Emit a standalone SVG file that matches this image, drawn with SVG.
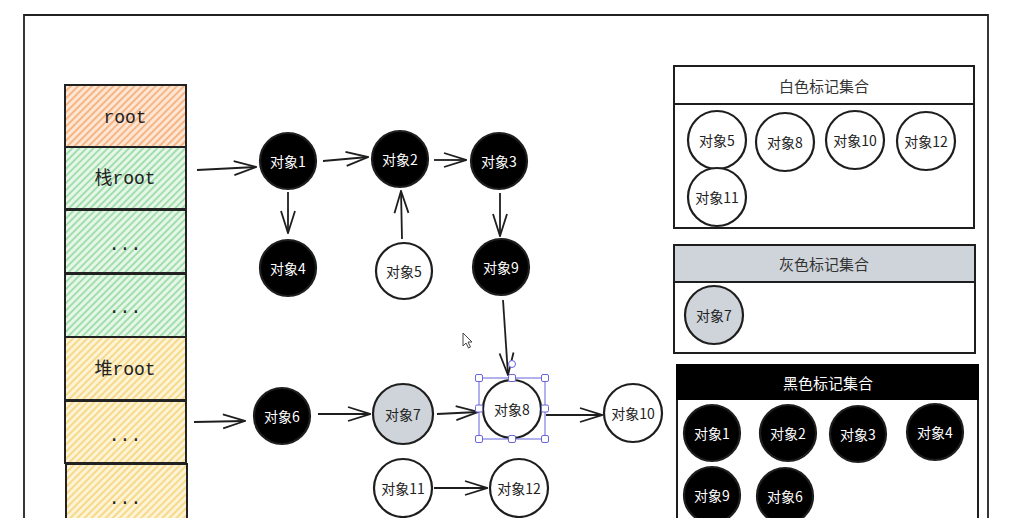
<svg xmlns="http://www.w3.org/2000/svg" width="1009" height="518" viewBox="0 0 1009 518">
<style>
.frame{fill:none;stroke:#222;stroke-width:1.8}
.cell{stroke:#222;stroke-width:2}
.slab{font-family:"Liberation Mono","Noto Sans CJK SC",monospace;font-size:18px;fill:#222;text-anchor:middle;dominant-baseline:central}
.n circle{stroke:#1e1e1e;stroke-width:2.2}
.blk circle{fill:#000}
.wht circle{fill:#fff}
.gry circle{fill:#ced4da}
.n text{font-family:"Noto Sans CJK SC","Noto Sans",sans-serif;font-size:14px;text-anchor:middle;dominant-baseline:central}
.blk text{fill:#fff}
.wht text,.gry text{fill:#222}
.edge{fill:none;stroke:#1e1e1e;stroke-width:1.8;marker-end:url(#ah)}
.panel{fill:#fff;stroke:#1e1e1e;stroke-width:2}
.ptitle{font-family:"Noto Sans CJK SC",sans-serif;font-size:15px;text-anchor:middle;dominant-baseline:central;fill:#333}
.sel{fill:none;stroke:#6965db;stroke-width:1}
.hdl{fill:#fff;stroke:#6965db;stroke-width:1}
</style>
<defs>
<marker id="ah" viewBox="0 0 24 24" refX="23" refY="12" markerWidth="24" markerHeight="24" markerUnits="userSpaceOnUse" orient="auto">
<path d="M1,5 L23,12 L1,19" fill="none" stroke="#1e1e1e" stroke-width="1.8"/>
</marker>
<pattern id="hO" width="5" height="5" patternUnits="userSpaceOnUse" patternTransform="rotate(45)">
<rect width="5" height="5" fill="#fde6d4"/><line x1="1" y1="0" x2="1" y2="5" stroke="#f4a062" stroke-width="1.4"/>
</pattern>
<pattern id="hG" width="5" height="5" patternUnits="userSpaceOnUse" patternTransform="rotate(45)">
<rect width="5" height="5" fill="#e6f7e9"/><line x1="1" y1="0" x2="1" y2="5" stroke="#86d493" stroke-width="1.4"/>
</pattern>
<pattern id="hY" width="5" height="5" patternUnits="userSpaceOnUse" patternTransform="rotate(45)">
<rect width="5" height="5" fill="#fdf3d6"/><line x1="1" y1="0" x2="1" y2="5" stroke="#f3cf68" stroke-width="1.4"/>
</pattern>
</defs>
<rect width="1009" height="518" fill="#fff"/>
<path class="frame" d="M24,518 L24,15 L988,15 L988,518"/>

<g id="stack">
<rect class="cell" x="65" y="85" width="121" height="62" fill="url(#hO)"/>
<text class="slab" x="125" y="118">root</text>
<rect class="cell" x="65" y="147" width="121" height="62" fill="url(#hG)"/>
<text class="slab" x="125" y="179">栈root</text>
<rect class="cell" x="65" y="210" width="121" height="63" fill="url(#hG)"/>
<text class="slab" x="125" y="245">...</text>
<rect class="cell" x="65" y="274" width="121" height="63" fill="url(#hG)"/>
<text class="slab" x="125" y="308">...</text>
<rect class="cell" x="65" y="337" width="121" height="63" fill="url(#hY)"/>
<text class="slab" x="125" y="370">堆root</text>
<rect class="cell" x="65" y="401" width="121" height="62" fill="url(#hY)"/>
<text class="slab" x="125" y="436">...</text>
<rect class="cell" x="66" y="464" width="121" height="62" fill="url(#hY)"/>
<text class="slab" x="125" y="499">...</text>
</g>

<g id="connectors">
<path class="edge" d="M197,170 L256,167"/>
<path class="edge" d="M323,161 L368,157"/>
<path class="edge" d="M434,160 L466,160"/>
<path class="edge" d="M288,192 L288,233"/>
<path class="edge" d="M402,239 L401,191"/>
<path class="edge" d="M500,193 L500,236"/>
<path class="edge" d="M503,300 L508,375"/>
<path class="edge" d="M194,422 L245,421"/>
<path class="edge" d="M318,414 L370,414"/>
<path class="edge" d="M437,414 L478,412"/>
<path class="edge" d="M546,415 L602,415"/>
<path class="edge" d="M434,488 L487,488"/>
</g>

<g id="obj1" class="n blk"><circle cx="288" cy="161" r="28"/><text x="288" y="161">对象1</text></g>
<g id="obj2" class="n blk"><circle cx="400" cy="159" r="28"/><text x="400" y="159">对象2</text></g>
<g id="obj3" class="n blk"><circle cx="499" cy="161" r="28"/><text x="499" y="161">对象3</text></g>
<g id="obj4" class="n blk"><circle cx="288" cy="268" r="28"/><text x="288" y="268">对象4</text></g>
<g id="obj5" class="n wht"><circle cx="404" cy="271" r="28"/><text x="404" y="271">对象5</text></g>
<g id="obj9" class="n blk"><circle cx="501" cy="267" r="28"/><text x="501" y="267">对象9</text></g>
<g id="obj6" class="n blk"><circle cx="282" cy="416" r="28"/><text x="282" y="416">对象6</text></g>
<g id="obj7" class="n gry"><circle cx="403" cy="414" r="30"/><text x="403" y="414">对象7</text></g>
<g id="obj8" class="n wht"><circle cx="512" cy="409" r="29"/><text x="512" y="409">对象8</text></g>
<g id="obj10" class="n wht"><circle cx="633" cy="413" r="29"/><text x="633" y="413">对象10</text></g>
<g id="obj11" class="n wht"><circle cx="403" cy="488" r="29"/><text x="403" y="488">对象11</text></g>
<g id="obj12" class="n wht"><circle cx="519" cy="488" r="29"/><text x="519" y="488">对象12</text></g>

<g id="selection">
<rect class="sel" x="479" y="378" width="66" height="61"/>
<rect class="hdl" x="475.5" y="374.5" width="7" height="7" rx="1.5"/>
<rect class="hdl" x="508.5" y="374.5" width="7" height="7" rx="1.5"/>
<rect class="hdl" x="541.5" y="374.5" width="7" height="7" rx="1.5"/>
<rect class="hdl" x="475.5" y="405" width="7" height="7" rx="1.5"/>
<rect class="hdl" x="541.5" y="405" width="7" height="7" rx="1.5"/>
<rect class="hdl" x="475.5" y="435.5" width="7" height="7" rx="1.5"/>
<rect class="hdl" x="508.5" y="435.5" width="7" height="7" rx="1.5"/>
<rect class="hdl" x="541.5" y="435.5" width="7" height="7" rx="1.5"/>
<circle class="hdl" cx="512" cy="364" r="3.5"/>
</g>
<path d="M463,333 L463,346 L466,343 L468.5,348 L470.5,347 L468,342 L472,342 Z" fill="#fff" stroke="#444" stroke-width="1"/>

<g id="whiteSet">
<rect class="panel" x="674" y="66" width="300" height="162"/>
<line x1="674" y1="104" x2="974" y2="104" stroke="#1e1e1e" stroke-width="2"/>
<text class="ptitle" x="824" y="85">白色标记集合</text>
<g class="n wht"><circle cx="717" cy="140" r="29"/><text x="717" y="140">对象5</text></g>
<g class="n wht"><circle cx="785" cy="142" r="29"/><text x="785" y="142">对象8</text></g>
<g class="n wht"><circle cx="855" cy="140" r="29"/><text x="855" y="140">对象10</text></g>
<g class="n wht"><circle cx="926" cy="141" r="29"/><text x="926" y="141">对象12</text></g>
<g class="n wht"><circle cx="717" cy="197" r="29"/><text x="717" y="197">对象11</text></g>
</g>

<g id="graySet">
<rect class="panel" x="674" y="245" width="301" height="108"/>
<rect x="674" y="245" width="301" height="37" fill="#ced4da" stroke="#1e1e1e" stroke-width="2"/>
<text class="ptitle" x="824" y="263">灰色标记集合</text>
<g class="n gry"><circle cx="714" cy="315" r="29"/><text x="714" y="315">对象7</text></g>
</g>

<g id="blackSet">
<rect class="panel" x="677" y="365" width="301" height="170"/>
<rect x="677" y="365" width="301" height="34" fill="#000" stroke="#000" stroke-width="2"/>
<text class="ptitle" x="828" y="382" style="fill:#fff">黑色标记集合</text>
<g class="n blk"><circle cx="712" cy="433" r="28"/><text x="712" y="433">对象1</text></g>
<g class="n blk"><circle cx="788" cy="433" r="28"/><text x="788" y="433">对象2</text></g>
<g class="n blk"><circle cx="858" cy="434" r="28"/><text x="858" y="434">对象3</text></g>
<g class="n blk"><circle cx="935" cy="432" r="28"/><text x="935" y="432">对象4</text></g>
<g class="n blk"><circle cx="712" cy="495" r="28"/><text x="712" y="495">对象9</text></g>
<g class="n blk"><circle cx="785" cy="496" r="28"/><text x="785" y="496">对象6</text></g>
</g>
</svg>
